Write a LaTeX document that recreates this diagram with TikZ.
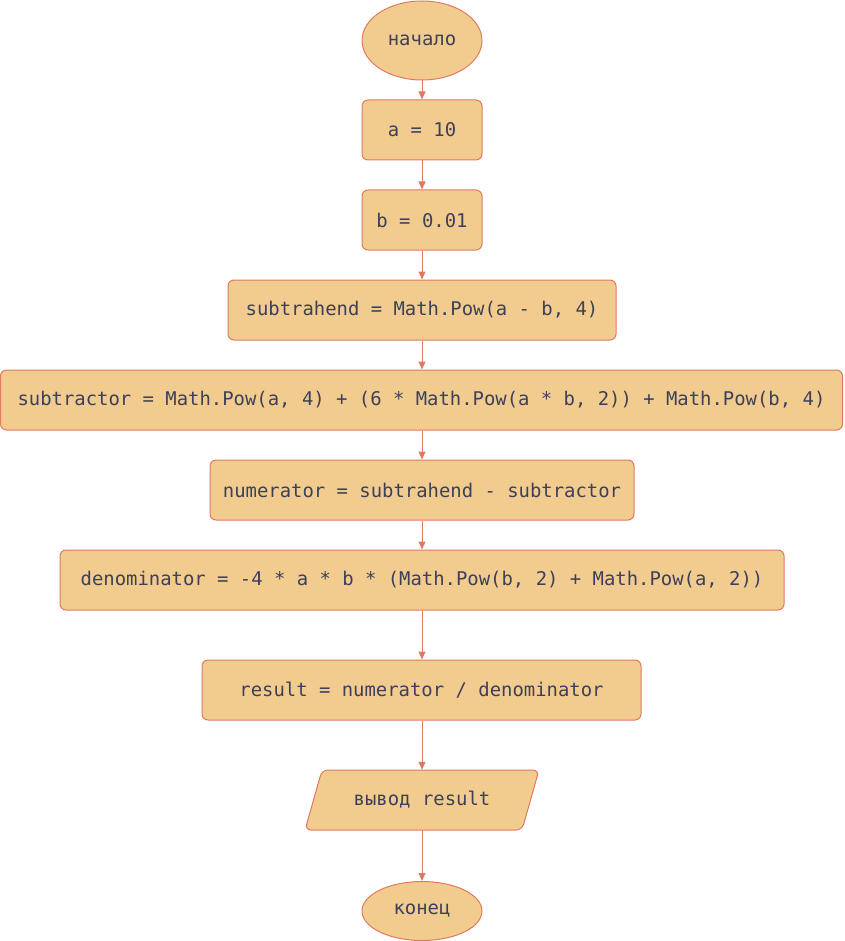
\documentclass[tikz,border=0pt]{standalone}
\usepackage{fontspec}
\setmonofont{DejaVu Sans Mono}
\usetikzlibrary{shapes.geometric,arrows.meta}
\definecolor{boxfill}{HTML}{F2CC8F}
\definecolor{boxline}{HTML}{E07A5F}
\definecolor{txt}{HTML}{3D405B}
\begin{document}
\begin{tikzpicture}[x=1pt,y=-1pt,
  base/.style={fill=boxfill,draw=boxline,line width=1pt,text=txt,inner sep=0pt,
    font=\ttfamily\fontsize{18.9}{22}\selectfont},
  procbox/.style={base,rectangle,rounded corners=6pt,minimum height=60pt},
  term/.style={base,ellipse,minimum width=120pt},
  conn/.style={draw=boxline,line width=1pt,-{Triangle[length=8pt,width=7pt]}}]
\useasboundingbox (0,0) rectangle (844,941);
\node[term,minimum height=79pt] (start) at (422,40.5) {начало};
\node[procbox,minimum width=120pt] (a) at (422,130) {a = 10};
\node[procbox,minimum width=120pt] (b) at (422,220) {b = 0.01};
\node[procbox,minimum width=388pt] (sh) at (422,310) {subtrahend = Math.Pow(a - b, 4)};
\node[procbox,minimum width=842pt] (st) at (421.5,400) {subtractor = Math.Pow(a, 4) + (6 * Math.Pow(a * b, 2)) + Math.Pow(b, 4)};
\node[procbox,minimum width=424pt] (num) at (422,490) {numerator = subtrahend - subtractor};
\node[procbox,minimum width=724pt] (den) at (422,580) {denominator = -4 * a * b * (Math.Pow(b, 2) + Math.Pow(a, 2))};
\node[procbox,minimum width=439pt] (res) at (421.5,690) {result = numerator / denominator};
\draw[base,rounded corners=6pt] (322,770) -- (539,770) -- (522,830) -- (305,830) -- cycle;
\node[text=txt,inner sep=0pt,minimum width=200pt,minimum height=60pt,
  font=\ttfamily\fontsize{18.9}{22}\selectfont] (out) at (422,800) {вывод result};
\node[term,minimum height=59pt] (end) at (422,911) {конец};
\draw[conn] (start) -- (a);
\draw[conn] (a) -- (b);
\draw[conn] (b) -- (sh);
\draw[conn] (sh.south) -- (sh.south |- st.north);
\draw[conn] (num.north |- st.south) -- (num.north);
\draw[conn] (num) -- (den);
\draw[conn] (den.south) -- (den.south |- res.north);
\draw[conn] (den.south |- res.south) -- (den.south |- out.north);
\draw[conn] (out) -- (end);
\end{tikzpicture}
\end{document}
